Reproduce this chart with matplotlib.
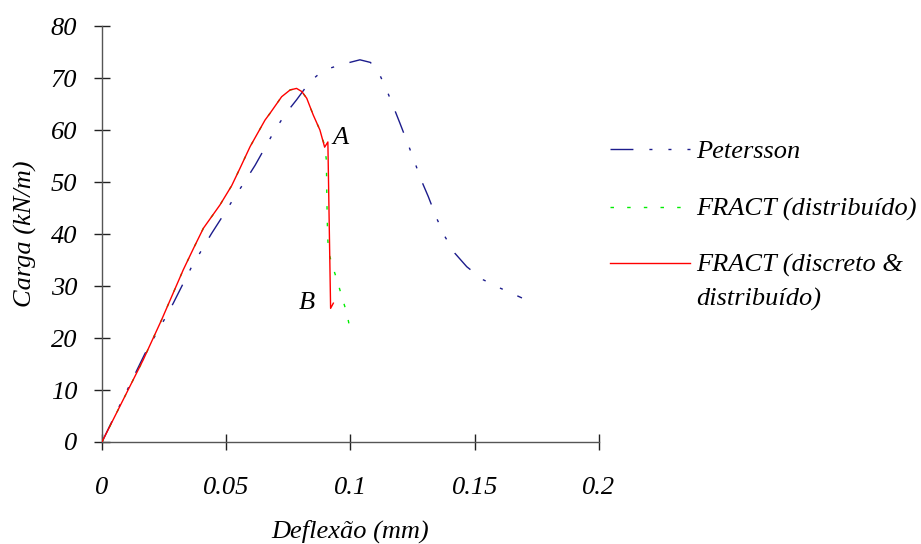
import matplotlib
matplotlib.use("Agg")
import matplotlib.pyplot as plt
from matplotlib.lines import Line2D

# Load-deflection curves (deflection in mm, load in kN/m)
peterson_x = [0.0, 0.0173, 0.0254, 0.0287, 0.0327, 0.0361, 0.0401, 0.0441, 0.0488,
              0.0535, 0.0575, 0.0616, 0.0696, 0.0740, 0.0783, 0.0837, 0.0891, 0.0965,
              0.1038, 0.1080, 0.1112, 0.1143, 0.1170, 0.1199, 0.1233, 0.1260, 0.1287,
              0.1313, 0.1347, 0.1380, 0.1420, 0.1468, 0.1534, 0.1602, 0.1690]
peterson_y = [0.0, 17.0, 23.8, 26.7, 30.5, 33.7, 36.9, 40.1, 43.6,
              47.2, 50.1, 53.2, 60.0, 63.2, 65.8, 69.3, 71.5, 72.6,
              73.5, 73.0, 71.2, 68.0, 64.8, 61.3, 57.1, 53.6, 50.1,
              47.2, 43.0, 39.5, 36.3, 33.7, 31.2, 29.6, 27.7]

distrib_x = [0.0, 0.0166, 0.0240, 0.0327, 0.0368, 0.0408, 0.0475, 0.0522, 0.0555,
             0.0596, 0.0656, 0.0676, 0.0723, 0.0757, 0.0783, 0.0804, 0.0824, 0.0850,
             0.0877, 0.0896, 0.0903, 0.0905, 0.0908, 0.0912, 0.0928, 0.0948, 0.0965,
             0.0985, 0.1000]
distrib_y = [0.0, 15.8, 23.5, 33.1, 37.2, 41.1, 45.6, 49.3, 52.6,
             56.8, 61.9, 63.2, 66.4, 67.7, 68.0, 67.4, 66.1, 62.9,
             60.0, 57.0, 54.2, 46.5, 39.5, 36.5, 33.8, 30.8, 28.0,
             24.8, 21.3]

discrete_x = [0.0, 0.0166, 0.0240, 0.0327, 0.0368, 0.0408, 0.0475, 0.0522, 0.0555,
              0.0596, 0.0656, 0.0676, 0.0723, 0.0757, 0.0783, 0.0804, 0.0824, 0.0850,
              0.0877, 0.0896, 0.0909, 0.0920, 0.0931]
discrete_y = [0.0, 15.8, 23.5, 33.1, 37.2, 41.1, 45.6, 49.3, 52.6,
              56.8, 61.9, 63.2, 66.4, 67.7, 68.0, 67.4, 66.1, 62.9,
              60.0, 56.7, 57.7, 25.7, 26.7]

x_ticks = [0, 0.05, 0.1, 0.15, 0.2]
x_tick_labels = ["0", "0.05", "0.1", "0.15", "0.2"]
y_ticks = [0, 10, 20, 30, 40, 50, 60, 70, 80]
y_tick_labels = ["0", "10", "20", "30", "40", "50", "60", "70", "80"]

series_labels = ["Petersson", "FRACT (distribuído)", "FRACT (discreto &", "distribuído)"]

point_labels = ["A", "B"]
point_x = [0.0958, 0.0825]
point_y = [58.5, 26.7]

plt.rcParams["font.family"] = ["Liberation Serif", "DejaVu Serif"]
plt.rcParams["font.style"] = "italic"

FS = 19
fig = plt.figure(figsize=(9.21, 5.44), dpi=100)
ax = fig.add_axes([0.1107, 0.1875, 0.5397, 0.7647])

blue_dash = (16.5, 11.5, 2.2, 11.5, 2.2, 11.5)
green_dash = (2.5, 9.5)
ax.plot(peterson_x, peterson_y, color="#1c1c8c", lw=1.0, dashes=blue_dash, zorder=2)
ax.plot(distrib_x, distrib_y, color="#00ee00", lw=1.0, dashes=green_dash, zorder=2)
ax.plot(discrete_x, discrete_y, color="#ff0000", lw=1.0, zorder=3)

for lab, px, py in zip(point_labels, point_x, point_y):
    ax.text(px, py, lab, fontsize=FS, ha="center", va="center")

ax.set_xlim(0, 0.2)
ax.set_ylim(0, 80)
ax.set_xticks(x_ticks)
ax.set_xticklabels(x_tick_labels)
ax.set_yticks(y_ticks)
ax.set_yticklabels(y_tick_labels)

for side in ("top", "right"):
    ax.spines[side].set_visible(False)
for side in ("left", "bottom"):
    ax.spines[side].set_color("#555555")
    ax.spines[side].set_linewidth(1.0)

ax.tick_params(axis="both", direction="inout", length=11.5, width=1.0,
               color="#222222", labelsize=FS)
ax.tick_params(axis="y", pad=12)
ax.tick_params(axis="x", pad=19.5)

ax.set_xlabel("Deflexão (mm)", fontsize=FS, labelpad=15)
ax.set_ylabel("Carga (kN/m)", fontsize=FS, labelpad=10)

# Key to the three curves, to the right of the axes
key_x0, key_x1, key_tx = 610 / 921, 690 / 921, 696 / 921
key_rows = [1 - 149 / 544, 1 - 207 / 544, 1 - 263 / 544]
key_styles = [
    dict(color="#1c1c8c", lw=1.0, dashes=blue_dash),
    dict(color="#00ee00", lw=1.0, dashes=green_dash),
    dict(color="#ff0000", lw=1.0),
]
for row, style, lab in zip(key_rows, key_styles, series_labels[:3]):
    fig.add_artist(Line2D([key_x0, key_x1], [row, row], transform=fig.transFigure, **style))
    fig.text(key_tx, row, lab, fontsize=FS, ha="left", va="center_baseline")
fig.text(key_tx, 1 - 297 / 544, series_labels[3], fontsize=FS, ha="left",
         va="center_baseline")

fig.savefig("out.png", dpi=100, facecolor="white")
